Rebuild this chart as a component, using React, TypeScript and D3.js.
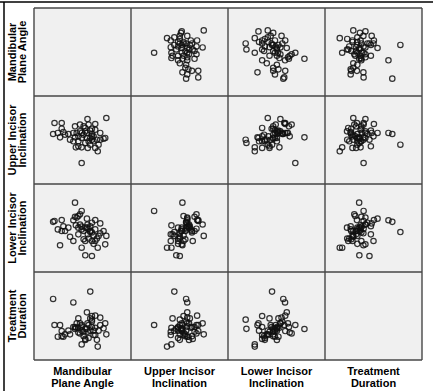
import React from "react";
import * as d3 from "d3";

// Variables (one entry per patient)
const variableNames = [
  ["Mandibular", "Plane Angle"],
  ["Upper Incisor", "Inclination"],
  ["Lower Incisor", "Inclination"],
  ["Treatment", "Duration"],
];

const mandibularPlaneAngle = [
  16.9, 17.4, 18.6, 19.4, 20.0, 20.0, 20.6, 21.2,
  22.4, 23.0, 24.2, 24.2, 24.8, 24.8, 25.1, 25.4,
  26.0, 26.0, 26.0, 26.6, 26.6, 27.2, 27.2, 27.2, 27.2, 27.9, 27.9, 28.5, 28.5, 28.5,
  29.1, 29.1, 29.4, 29.3, 29.7, 29.7, 30.3, 30.3, 30.3, 30.9, 30.9, 30.9, 30.9, 31.5, 31.5,
  32.1, 32.1, 32.1, 32.7, 33.0, 33.3, 33.9, 33.9, 35.1, 35.7, 36.1,
];
const upperIncisorInclination = [
  114.1, 121.6, 114.8, 111.8, 121.6, 117.7, 115.5, 113.6,
  114.1, 110.2, 114.8, 109.1, 119.3, 111.8, 105.0, 114.8,
  109.1, 105.7, 112.5, 115.9, 120.5, 111.4, 105.0, 94.3, 114.8, 119.3, 113.6, 115.9, 108.0, 118.2,
  111.4, 114.8, 104.6, 124.3, 120.5, 109.1, 116.4, 106.8, 111.4, 112.5, 114.1, 110.2, 117.7, 109.1, 112.5,
  120.9, 117.0, 104.6, 110.2, 102.3, 106.8, 114.8, 110.2, 110.9, 111.4, 125.0,
];
const lowerIncisorInclination = [
  98.5, 99.0, 94.2, 85.2, 99.5, 93.3, 96.0, 93.3,
  95.2, 90.0, 99.4, 87.6, 101.4, 109.4, 96.5, 100.9,
  95.2, 91.4, 101.8, 97.0, 102.8, 94.2, 83.8, 104.7, 95.8, 93.3, 88.6, 95.2, 79.5, 87.6,
  95.2, 100.3, 91.4, 97.0, 94.6, 89.0, 96.0, 92.7, 93.3, 87.6, 98.0, 79.1, 92.5, 86.0, 90.8,
  99.5, 94.2, 87.6, 89.0, 83.8, 90.5, 97.6, 92.0, 93.3, 85.7, 90.5,
];
const treatmentDuration = [
  33.3, 19.1, 12.7, 19.0, 15.8, 13.0, 12.7, 14.0,
  16.0, 14.0, 31.4, 18.0, 18.0, 16.9, 17.6, 20.0,
  17.6, 22.7, 15.0, 20.0, 14.5, 16.0, 8.5, 19.1, 18.2, 15.4, 13.0, 10.9, 17.0, 11.5,
  17.0, 26.0, 15.4, 20.0, 19.1, 12.0, 22.7, 37.3, 16.0, 24.0, 21.0, 22.0, 18.0, 16.0, 13.6,
  24.2, 17.6, 13.6, 11.0, 7.3, 16.0, 23.1, 19.0, 17.3, 20.0, 14.0,
];

const variableDomains: [number, number][] = [
  [10, 45],
  [80, 140],
  [70, 120],
  [0, 48],
];

const columns = [
  mandibularPlaneAngle,
  upperIncisorInclination,
  lowerIncisorInclination,
  treatmentDuration,
];

export default function App() {
  const W = 433;
  const H = 391;
  const left = 34;
  const top = 8;
  const cw = 97;
  const ch = 88;
  const n = 4;

  const xScales = d3.range(n).map((j) =>
    d3.scaleLinear().domain(variableDomains[j]).range([left + j * cw, left + (j + 1) * cw])
  );
  const yScales = d3.range(n).map((i) =>
    d3.scaleLinear().domain(variableDomains[i]).range([top + (i + 1) * ch, top + i * ch])
  );

  const font = "'Liberation Sans', Arial, sans-serif";
  const gridColor = "#474747";

  return (
    <svg
      width={W}
      height={H}
      style={{ position: "absolute", left: 0, top: 0, background: "#fff" }}
    >
      {/* outer frame */}
      <line x1={0} x2={W} y1={2} y2={2} stroke="#000" strokeWidth={1.5} />
      <line x1={4} x2={4} y1={2} y2={H} stroke="#000" strokeWidth={1.5} />

      {/* cells */}
      <rect x={left} y={top} width={cw * n} height={ch * n} fill="#f0f0f0" />

      {/* points */}
      {d3.range(n).map((i) =>
        d3.range(n).map((j) =>
          i === j ? null : (
            <g key={`p-${i}-${j}`}>
              {columns[j].map((v, k) => (
                <circle
                  key={k}
                  cx={xScales[j](v)}
                  cy={yScales[i](columns[i][k])}
                  r={2.7}
                  fill="none"
                  stroke="#111"
                  strokeOpacity={0.85}
                  strokeWidth={1.2}
                />
              ))}
            </g>
          )
        )
      )}

      {/* grid lines */}
      {d3.range(n + 1).map((k) => (
        <line
          key={`v${k}`}
          x1={left + k * cw}
          x2={left + k * cw}
          y1={top}
          y2={top + n * ch}
          stroke={gridColor}
          strokeWidth={1.4}
        />
      ))}
      {d3.range(n + 1).map((k) => (
        <line
          key={`h${k}`}
          x1={left}
          x2={left + n * cw}
          y1={top + k * ch}
          y2={top + k * ch}
          stroke={gridColor}
          strokeWidth={1.4}
        />
      ))}

      {/* column labels */}
      {variableNames.map((lines, j) => (
        <text
          key={`cl${j}`}
          x={left + j * cw + cw / 2}
          textAnchor="middle"
          fontFamily={font}
          fontWeight="bold"
          fontSize={11}
          fill="#000"
        >
          <tspan x={left + j * cw + cw / 2} y={375}>{lines[0]}</tspan>
          <tspan x={left + j * cw + cw / 2} y={386.5}>{lines[1]}</tspan>
        </text>
      ))}

      {/* row labels */}
      {variableNames.map((lines, i) => {
        const cy = top + i * ch + ch / 2;
        return (
          <g key={`rl${i}`} transform={`translate(0,${cy}) rotate(-90)`}>
            <text
              textAnchor="middle"
              fontFamily={font}
              fontWeight="bold"
              fontSize={11}
              fill="#000"
            >
              <tspan x={0} y={16}>{lines[0]}</tspan>
              <tspan x={0} y={26}>{lines[1]}</tspan>
            </text>
          </g>
        );
      })}
    </svg>
  );
}
